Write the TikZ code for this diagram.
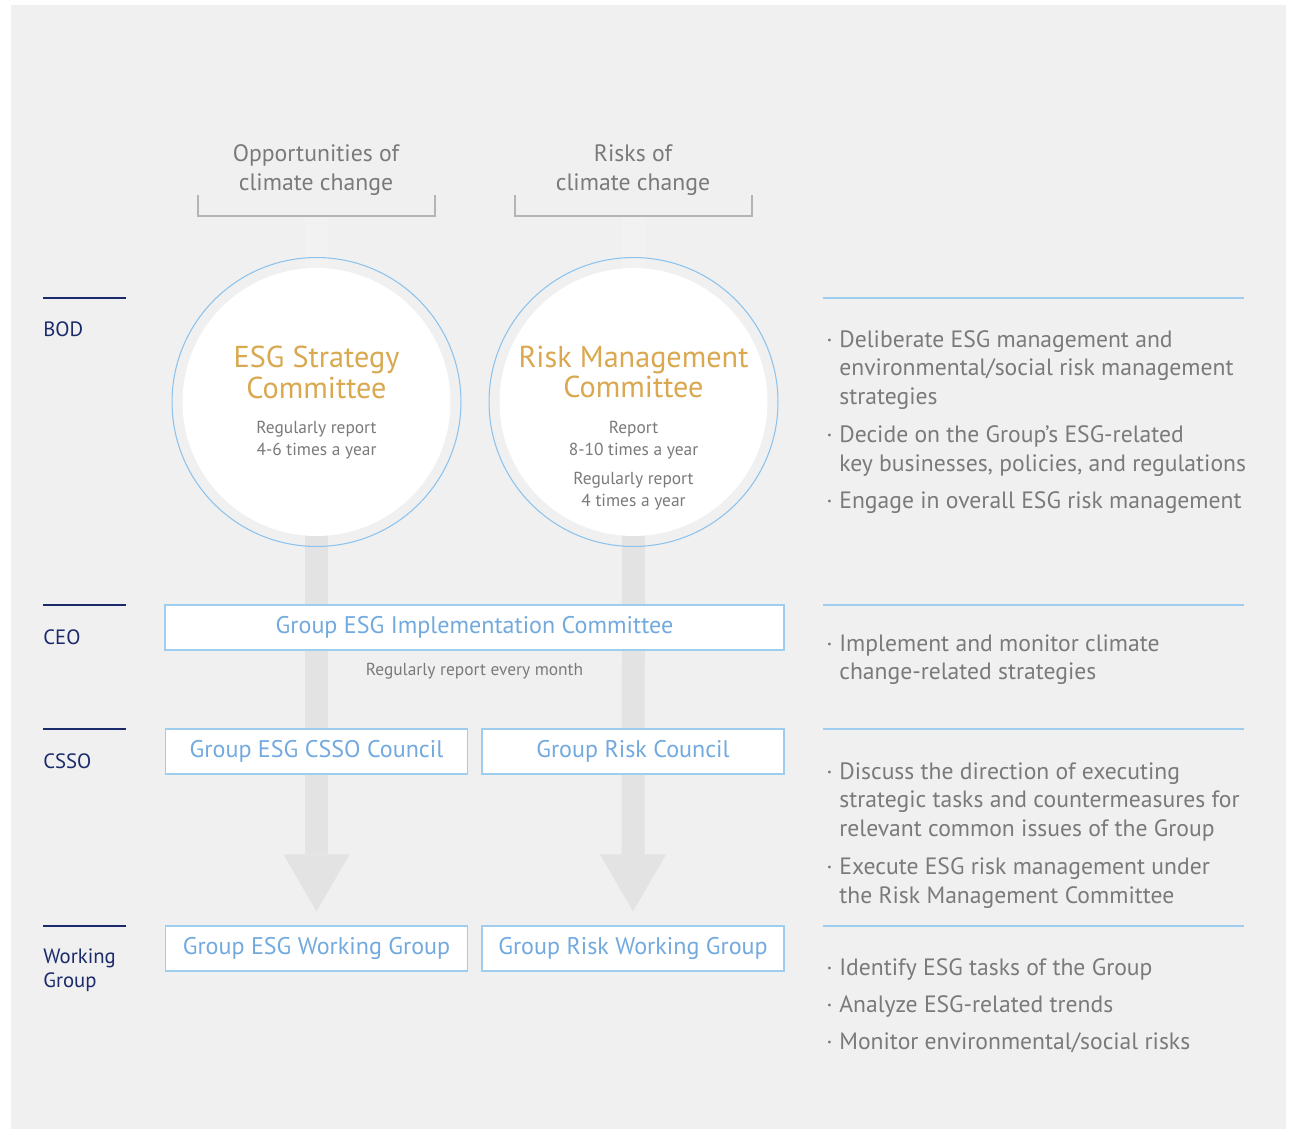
\documentclass[tikz,border=0pt]{standalone}
\usepackage{fontspec}
\setmainfont{PT Sans}
\usetikzlibrary{arrows.meta,positioning,backgrounds}
\definecolor{bg}{HTML}{F0F0F0}
\definecolor{bar}{HTML}{E3E3E3}
\definecolor{barlite}{HTML}{F2F2F2}
\definecolor{navy}{HTML}{1B2A6B}
\definecolor{gold}{HTML}{D9A84F}
\definecolor{sky}{HTML}{72AADF}
\definecolor{skyline}{HTML}{9FCDF0}
\definecolor{ring}{HTML}{8CC3EE}
\definecolor{txt}{HTML}{7A7A7A}
\definecolor{brk}{HTML}{B4B4B4}
\newcommand{\bul}{\textperiodcentered}
\newcommand{\dutygap}{4.8pt}
\tikzset{
  head/.style={text=txt, font=\fontsize{13.5}{16.45}\selectfont, align=center, inner sep=0pt},
  brack/.style={draw=brk, line width=0.7pt},
  ringc/.style={circle, draw=ring, line width=0.6pt, minimum size=5.78cm, inner sep=0pt},
  disk/.style={circle, fill=white, minimum size=5.36cm, inner sep=0pt},
  ctitle/.style={text=gold, font=\fontsize{17.2}{17.6}\selectfont, align=center, inner sep=0pt},
  cnote/.style={text=txt, font=\fontsize{9.9}{12.4}\selectfont, align=center, inner sep=0pt},
  box/.style={draw=skyline, fill=white, line width=0.7pt, text=sky,
    font=\fontsize{13.7}{16}\selectfont, minimum width=6.04cm, minimum height=0.9cm, inner sep=0pt},
  lvl/.style={text=navy, font=\fontsize{11.8}{13.6}\selectfont, anchor=west, align=left, inner sep=0pt},
  lvlline/.style={draw=navy, line width=0.6pt},
  sideline/.style={draw=skyline, line width=0.7pt},
  duty/.style={anchor=base west, inner sep=0pt, text=txt, font=\fontsize{13.45}{16.5}\selectfont},
  faint/.style={draw=barlite, line width=0.46cm},
  flow/.style={draw=bar, line width=0.46cm, -{Triangle[width=1.32cm,length=1.14cm,line width=0pt]}},
}

\begin{document}
\begin{tikzpicture}[x=0.02cm,y=-0.02cm]
  \useasboundingbox (0,0) rectangle (1291,1129);

  % column headings
  \node[head] (opp) at (316,170) {Opportunities of\\climate change};
  \node[head] (rsk) at (633,170) {Risks of\\climate change};
  \draw[brack] (198,195) |- (435,216) -- (435,195);
  \draw[brack] (515,195) |- (752,216) -- (752,195);
  \coordinate (opp-b) at (316.5,216);
  \coordinate (rsk-b) at (633.5,216);

  % BOD committees
  \node[ringc] (esc) at (316.5,402) {};
  \node[disk] (esc-in) at (esc) {};
  \node[ctitle] (esc-t) at (316.5,372) {ESG Strategy\\Committee};
  \node[cnote] (esc-n) at (316.5,440) {Regularly report\\4-6 times a year};

  \node[ringc] (rmc) at (633.5,402) {};
  \node[disk] (rmc-in) at (rmc) {};
  \node[ctitle] (rmc-t) at (633.5,372) {Risk Management\\Committee};
  \node[cnote] (rmc-n1) at (633.5,440) {Report\\8-10 times a year};
  \node[cnote] (rmc-n2) at (633.5,491) {Regularly report\\4 times a year};

  % executive boxes
  \node[box, minimum width=12.38cm] (impl) at (474.5,627.5) {Group ESG Implementation Committee};
  \node[cnote] (impl-n) at (474.5,671) {Regularly report every month};
  \node[box] (csso) at (316.5,751.5) {Group ESG CSSO Council};
  \node[box] (grc) at (633,751.5) {Group Risk Council};
  \node[box] (ewg) at (316.5,948.5) {Group ESG Working Group};
  \node[box] (rwg) at (633,948.5) {Group Risk Working Group};

  % levels on the left, rules on the right
  \foreach \y/\ly/\nm/\lab in {298/329/bod/BOD, 605/637/ceo/CEO, 729/761/cso/CSSO, 926/970/wg/{Working\\Group}}{
    \draw[lvlline] (43,\y) -- (126,\y);
    \node[lvl] (lv-\nm) at (43,\ly) {\lab};
    \draw[sideline] (823,\y) -- (1244,\y);
  }

  % roles
  \node[duty] (bod-d) at (826,347) {\begin{tabular}[t]{@{}p{0.26cm}@{}l@{}}
    \bul & Deliberate ESG management and\\
         & environmental/social risk management\\
         & strategies\\[\dutygap]
    \bul & Decide on the Group’s ESG-related\\
         & key businesses, policies, and regulations\\[\dutygap]
    \bul & Engage in overall ESG risk management
  \end{tabular}};
  \node[duty] (ceo-d) at (826,651) {\begin{tabular}[t]{@{}p{0.26cm}@{}l@{}}
    \bul & Implement and monitor climate\\
         & change-related strategies
  \end{tabular}};
  \node[duty] (cso-d) at (826,779) {\begin{tabular}[t]{@{}p{0.26cm}@{}l@{}}
    \bul & Discuss the direction of executing\\
         & strategic tasks and countermeasures for\\
         & relevant common issues of the Group\\[\dutygap]
    \bul & Execute ESG risk management under\\
         & the Risk Management Committee
  \end{tabular}};
  \node[duty] (wg-d) at (826,975) {\begin{tabular}[t]{@{}p{0.26cm}@{}l@{}}
    \bul & Identify ESG tasks of the Group\\[\dutygap]
    \bul & Analyze ESG-related trends\\[\dutygap]
    \bul & Monitor environmental/social risks
  \end{tabular}};

  % reporting lines behind the nodes
  \begin{scope}[on background layer]
    \fill[bg] (11,5) rectangle (1286,1129);
    \draw[faint] (opp-b) -- (esc.center);
    \draw[faint] (rsk-b) -- (rmc.center);
    \draw[flow] (esc.center) -- ([yshift=0.28cm]ewg.north);
    \draw[flow] (rmc.center) -- ([yshift=0.28cm]rwg.north);
  \end{scope}
\end{tikzpicture}
\end{document}
